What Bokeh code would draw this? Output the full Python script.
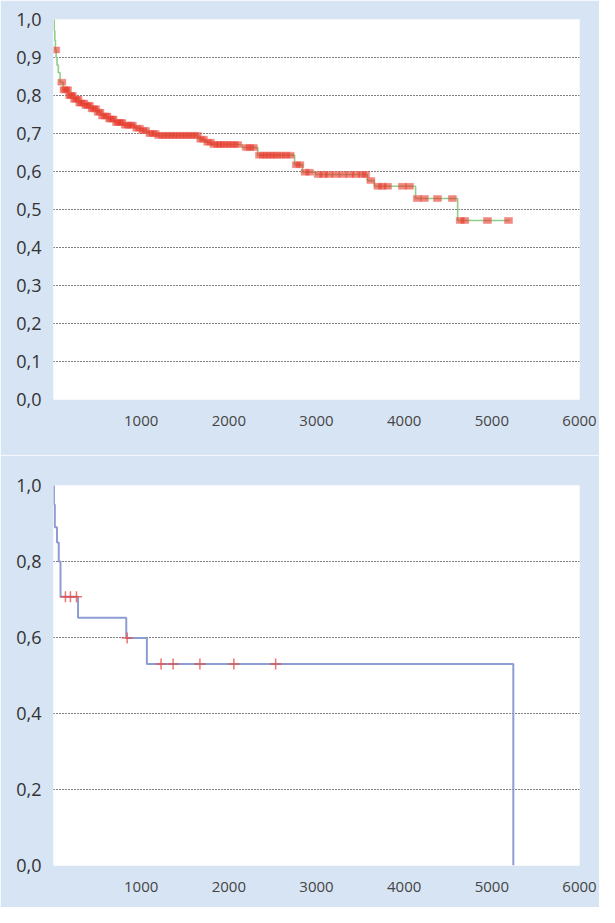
import numpy as np
from bokeh.plotting import figure
from bokeh.layouts import column
from bokeh.models import FixedTicker, Range1d
from bokeh.embed import file_html
from bokeh.resources import INLINE

# ---- top panel data (Kaplan-Meier steps + censor times) ----
top_step_t = [0, 8, 15, 22, 30, 40, 55, 75, 110, 170, 230, 290, 360, 430, 500, 550, 620, 700, 800, 930,
              1000, 1080, 1180, 1660, 1730, 1800, 2150, 2330, 2750, 2840, 2990, 3580, 3660, 4130, 4610, 5200]
top_step_s = [1.0, 0.97, 0.945, 0.92, 0.90, 0.88, 0.86, 0.835, 0.815, 0.80, 0.79, 0.78, 0.774, 0.765, 0.756,
              0.746, 0.738, 0.729, 0.722, 0.714, 0.708, 0.70, 0.695, 0.685, 0.677, 0.671, 0.663, 0.643, 0.618,
              0.598, 0.592, 0.576, 0.561, 0.529, 0.471, 0.471]
top_censor_t = [25, 95, 120, 140, 160, 185, 200, 215, 240, 260, 280, 300, 320, 345, 370, 390, 410, 440,
                460, 480, 510, 530, 560, 590, 610, 640, 660, 680, 720, 740, 760, 780, 820, 850, 880, 900, 950,
                980, 1020, 1050, 1100, 1130, 1160, 1200, 1240, 1280, 1320, 1360, 1400, 1440, 1480, 1520, 1560,
                1600, 1640, 1680, 1710, 1760, 1790, 1830, 1870, 1900, 1940, 1980, 2020, 2060, 2100, 2200, 2240,
                2280, 2350, 2390, 2430, 2470, 2510, 2550, 2600, 2650, 2700, 2770, 2810, 2870, 2920, 3020, 3080,
                3140, 3220, 3300, 3380, 3450, 3520, 3560, 3620, 3700, 3750, 3810, 3980, 4060, 4150, 4230, 4380,
                4550, 4640, 4690, 4950, 5190]

# ---- bottom panel data ----
bot_step_t = [0, 5, 15, 40, 60, 80, 280, 830, 1065, 5245]
bot_step_s = [1.0, 0.95, 0.89, 0.85, 0.80, 0.707, 0.652, 0.599, 0.53, 0.0]
bot_censor_t = [136, 193, 262, 840, 1227, 1364, 1670, 2057, 2534]

x_ticks = [1000, 2000, 3000, 4000, 5000, 6000]
top_y_ticks = [0.0, 0.1, 0.2, 0.3, 0.4, 0.5, 0.6, 0.7, 0.8, 0.9, 1.0]
top_y_labels = ["0,0", "0,1", "0,2", "0,3", "0,4", "0,5", "0,6", "0,7", "0,8", "0,9", "1,0"]
bot_y_ticks = [0.0, 0.2, 0.4, 0.6, 0.8, 1.0]
bot_y_labels = ["0,0", "0,2", "0,4", "0,6", "0,8", "1,0"]

BLUE_BG = "#d7e4f3"
FONT = "Open Sans"


def surv_at(step_t, step_s, times):
    idx = np.searchsorted(np.array(step_t), np.array(times), side="right") - 1
    return [step_s[i] for i in idx]


def make_fig(height, border_top, border_bottom, y_ticks, y_labels):
    p = figure(width=599, height=height, output_backend="svg", toolbar_location=None,
               x_range=Range1d(0, 6000), y_range=Range1d(0, 1.0),
               min_border_left=53, min_border_right=20,
               min_border_top=border_top, min_border_bottom=border_bottom)
    p.border_fill_color = BLUE_BG
    p.background_fill_color = "white"
    p.outline_line_color = None
    p.xgrid.visible = False
    p.ygrid.ticker = FixedTicker(ticks=y_ticks[1:-1])
    p.ygrid.grid_line_color = "#000000"
    p.ygrid.grid_line_dash = "1 2"
    p.ygrid.grid_line_width = 1
    p.ygrid.grid_line_alpha = 1.0
    p.xaxis.ticker = FixedTicker(ticks=x_ticks)
    p.yaxis.ticker = FixedTicker(ticks=y_ticks)
    p.yaxis.major_label_overrides = {t: l for t, l in zip(y_ticks, y_labels)}
    for ax in (p.xaxis, p.yaxis):
        ax.axis_line_color = None
        ax.major_tick_line_color = None
        ax.minor_tick_line_color = None
        ax.major_tick_out = 0
        ax.major_tick_in = 0
        ax.major_label_text_font = FONT
    p.yaxis.major_label_text_font_size = "18px"
    p.yaxis.major_label_text_color = "#333333"
    p.yaxis.major_label_standoff = 12
    p.xaxis.major_label_text_font_size = "15px"
    p.xaxis.major_label_text_color = "#454545"
    p.xaxis.major_label_standoff = 16
    return p


p1 = make_fig(455, 19, 56, top_y_ticks, top_y_labels)
p1.step(top_step_t, top_step_s, mode="after", line_color="#8fce8a", line_width=1.6)
p1.rect(top_censor_t, surv_at(top_step_t, top_step_s, top_censor_t), width=8, height=6,
        width_units="screen", height_units="screen",
        fill_color="#e8392c", fill_alpha=0.6, line_color="#ee6a5e", line_alpha=0.35, line_width=1)

p2 = make_fig(452, 30, 42, bot_y_ticks, bot_y_labels)
p2.step(bot_step_t, bot_step_s, mode="after", line_color="#8d9cd2", line_width=2)
p2.scatter(bot_censor_t, surv_at(bot_step_t, bot_step_s, bot_censor_t), marker="cross", size=11,
           line_color="#e8473f", line_alpha=0.75, line_width=1.5)

layout = column(p1, p2, spacing=0)
open("out.html", "w").write(file_html(layout, INLINE))
